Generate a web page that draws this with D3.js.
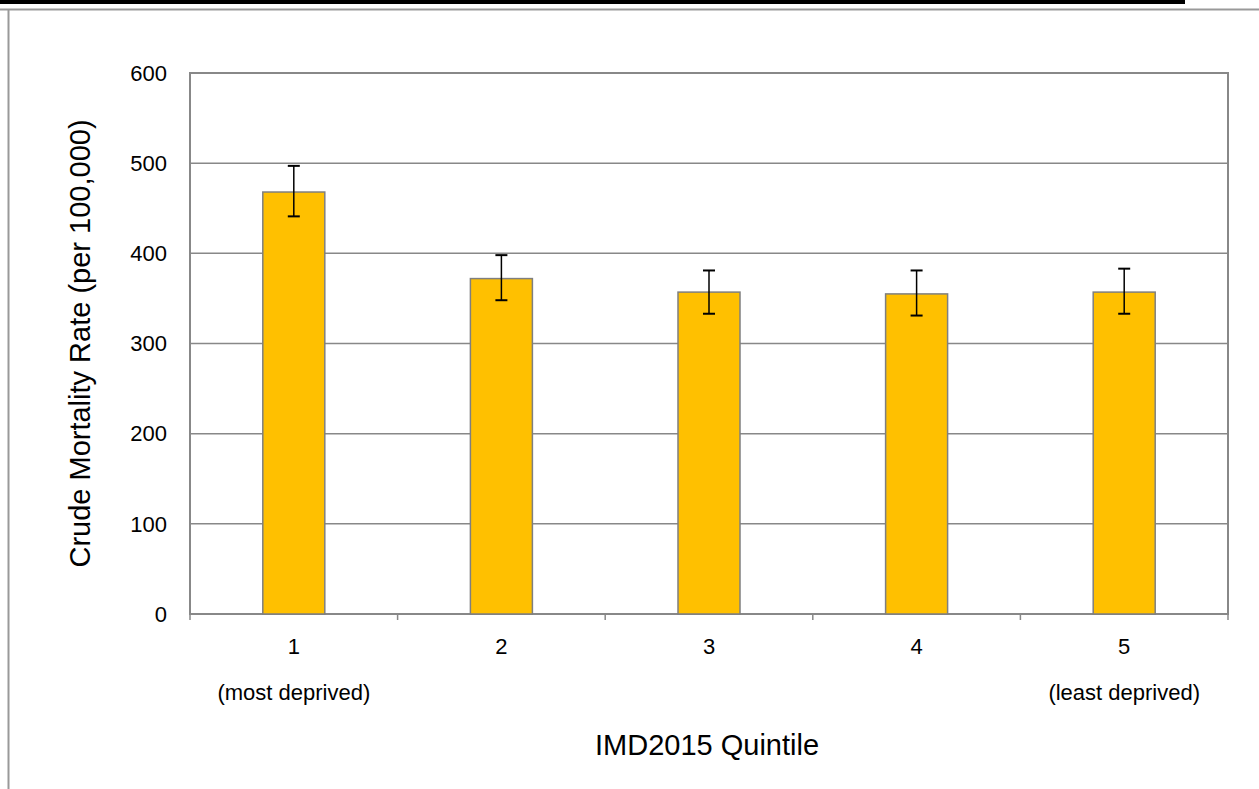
<!DOCTYPE html>
<html><head><meta charset="utf-8">
<script src="https://cdn.jsdelivr.net/npm/d3@7"></script>
<style>body{margin:0;background:#fff;font-family:"Liberation Sans",Arial,sans-serif;}</style>
</head><body><svg id="chart"></svg>
<script>
// data
const quintiles = ['1', '2', '3', '4', '5'];
const subLabels = ['(most deprived)', '', '', '', '(least deprived)'];
const rates = [468, 372, 357, 355, 357];
const lower = [441, 348, 333, 331, 333];
const upper = [497, 398, 381, 381, 383];
const yTicks = [0, 100, 200, 300, 400, 500, 600];

const W = 1259, H = 789;
const margin = {top: 73, right: 31, bottom: 175, left: 190};
const width = W - margin.left - margin.right;
const height = H - margin.top - margin.bottom;

const svg = d3.select('#chart').attr('width', W).attr('height', H);

// page frame
svg.append('rect').attr('x', 0).attr('y', 0).attr('width', 1185).attr('height', 4).attr('fill', '#000');
svg.append('line').attr('x1', 0).attr('x2', W).attr('y1', 9.5).attr('y2', 9.5).attr('stroke', '#999').attr('stroke-width', 2);
svg.append('line').attr('x1', 8.5).attr('x2', 8.5).attr('y1', 9).attr('y2', H).attr('stroke', '#999').attr('stroke-width', 2);

const chart = svg.append('g').attr('transform', `translate(${margin.left},${margin.top})`);

const xScale = d3.scaleBand().domain(quintiles).range([0, width]);
const yScale = d3.scaleLinear().domain([0, 600]).range([height, 0]);

// gridlines
chart.selectAll('.grid').data(yTicks).join('line')
    .attr('x1', 0).attr('x2', width)
    .attr('y1', d => yScale(d)).attr('y2', d => yScale(d))
    .attr('stroke', '#888').attr('stroke-width', 1.5);

chart.append('rect').attr('width', width).attr('height', height)
    .attr('fill', 'none').attr('stroke', '#888').attr('stroke-width', 2);

// y tick labels
chart.selectAll('.ylab').data(yTicks).join('text')
    .attr('x', -23).attr('y', d => yScale(d)).attr('dy', '0.35em')
    .attr('text-anchor', 'end').attr('font-size', 22).text(d => d);

// x ticks
chart.selectAll('.xtick').data(quintiles.concat(['end'])).join('line')
    .attr('x1', (d, i) => i * xScale.step()).attr('x2', (d, i) => i * xScale.step())
    .attr('y1', height).attr('y2', height + 6).attr('stroke', '#888').attr('stroke-width', 1.5);

const bw = 62;
chart.selectAll('.bar').data(rates).join('rect')
    .attr('x', (d, i) => xScale(quintiles[i]) + xScale.bandwidth() / 2 - bw / 2)
    .attr('width', bw)
    .attr('y', d => yScale(d))
    .attr('height', d => height - yScale(d))
    .attr('fill', '#ffc000').attr('stroke', '#7f7f7f').attr('stroke-width', 1.5);

// error bars
const cx = i => xScale(quintiles[i]) + xScale.bandwidth() / 2;
const eb = chart.selectAll('.err').data(rates).join('g');
eb.append('line').attr('x1', (d, i) => cx(i)).attr('x2', (d, i) => cx(i))
    .attr('y1', (d, i) => yScale(lower[i])).attr('y2', (d, i) => yScale(upper[i]))
    .attr('stroke', '#000').attr('stroke-width', 1.5);
[lower, upper].forEach(arr => {
  eb.append('line').attr('x1', (d, i) => cx(i) - 6).attr('x2', (d, i) => cx(i) + 6)
      .attr('y1', (d, i) => yScale(arr[i])).attr('y2', (d, i) => yScale(arr[i]))
      .attr('stroke', '#000').attr('stroke-width', 2);
});

// x labels
chart.selectAll('.xlab').data(quintiles).join('text')
    .attr('x', d => xScale(d) + xScale.bandwidth() / 2).attr('y', height + 40)
    .attr('text-anchor', 'middle').attr('font-size', 22).text(d => d);
chart.selectAll('.xsub').data(subLabels).join('text')
    .attr('x', (d, i) => xScale(quintiles[i]) + xScale.bandwidth() / 2).attr('y', height + 86)
    .attr('text-anchor', 'middle').attr('font-size', 22).text(d => d);

// axis titles
svg.append('text').attr('x', margin.left + width / 2 - 2).attr('y', 755)
    .attr('text-anchor', 'middle').attr('font-size', 29).text('IMD2015 Quintile');
svg.append('text').attr('transform', `translate(90,${margin.top + height / 2 - 0}) rotate(-90)`)
    .attr('text-anchor', 'middle').attr('font-size', 29).text('Crude Mortality Rate (per 100,000)');
</script></body></html>
